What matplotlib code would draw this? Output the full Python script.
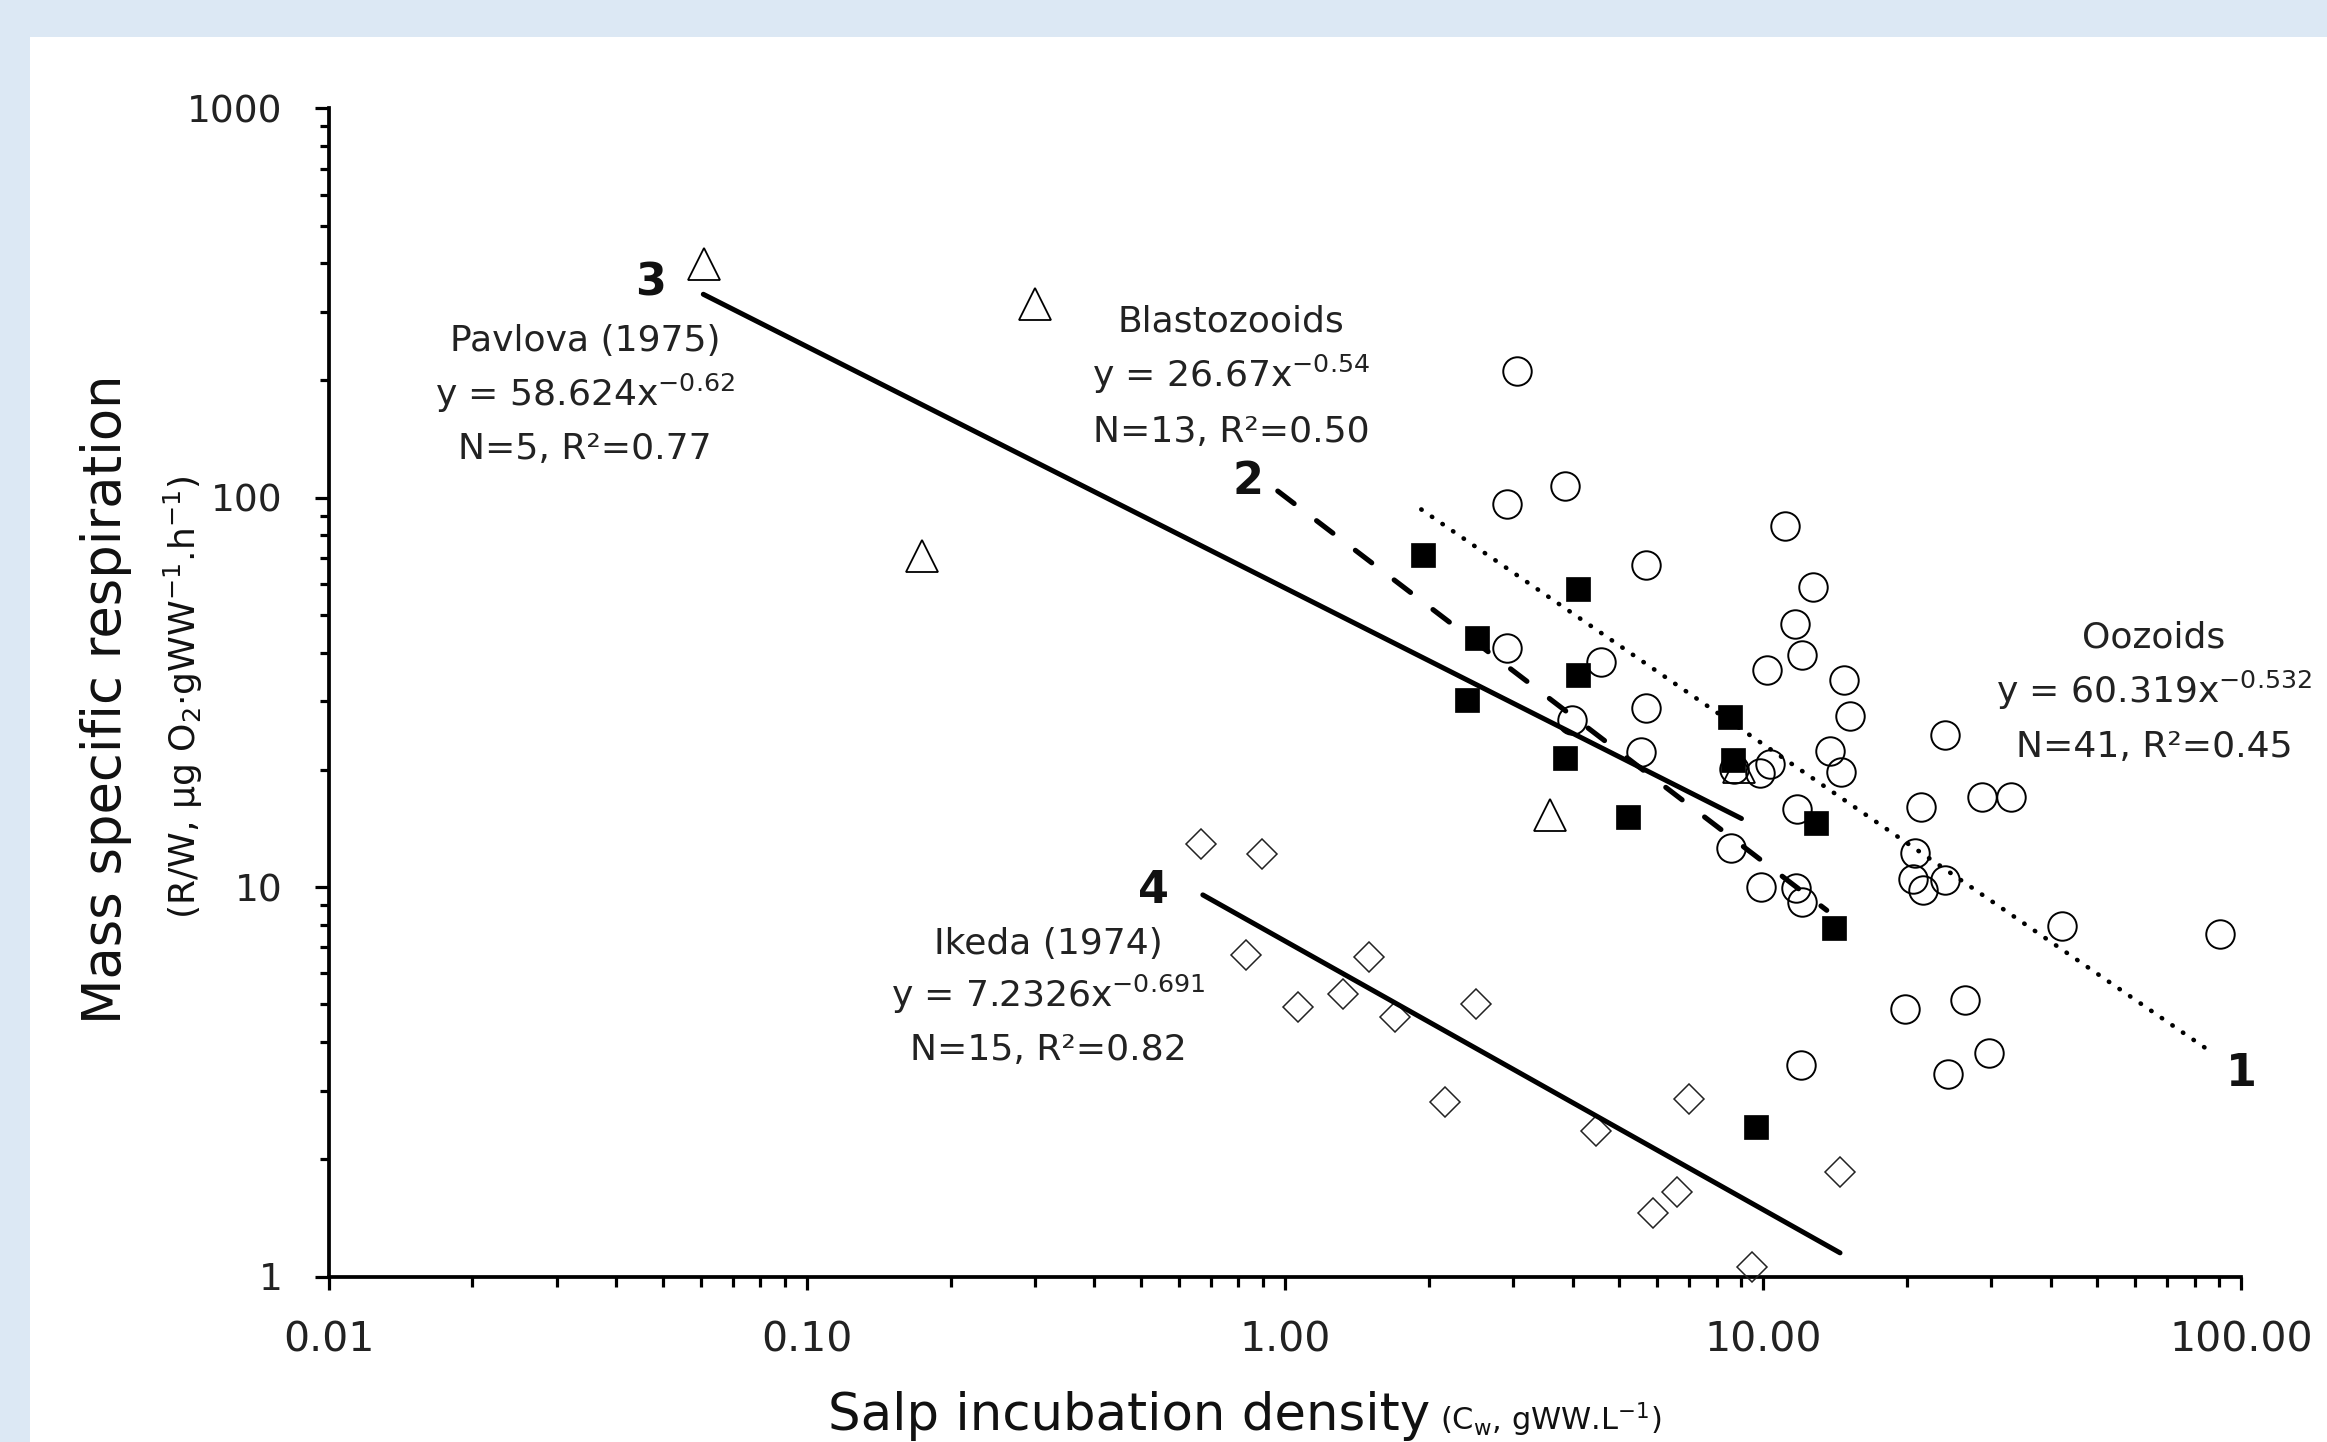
import matplotlib
matplotlib.use("Agg")
import matplotlib.pyplot as plt
from matplotlib.patches import Rectangle
from matplotlib.ticker import LogLocator, NullFormatter, FixedLocator, FixedFormatter

W, H = 2327, 1442
DPI = 100

# ---------------- data ----------------
# Oozoids (open circles)
oozoid_x = [3.06, 2.92, 3.85, 11.1, 5.69, 12.7, 11.65, 12.1, 10.2, 14.8, 15.2, 2.92, 4.59,
            5.69, 3.98, 5.57, 13.8, 14.6, 8.69, 9.85, 10.35, 11.8, 8.59, 9.93, 11.75, 12.1,
            12.0, 24.0, 28.7, 33.0, 21.4, 20.8, 20.6, 21.6, 24.0, 42.3, 90.3, 19.8, 26.5,
            29.7, 24.4]
oozoid_y = [211, 96.3, 107, 84.7, 67.1, 59.0, 47.5, 39.4, 36.2, 34.1, 27.5, 41.2, 37.8,
            28.8, 26.8, 22.2, 22.3, 19.8, 20.1, 19.6, 20.7, 15.9, 12.6, 10.0, 9.92, 9.16,
            3.49, 24.6, 17.05, 17.05, 16.1, 12.2, 10.5, 9.82, 10.4, 7.94, 7.6, 4.85, 5.12,
            3.74, 3.32]

# Blastozooids (filled squares)
blasto_x = [1.95, 4.10, 2.53, 4.10, 2.41, 8.52, 3.85, 8.64, 5.22, 12.9, 14.1, 9.69]
blasto_y = [71.2, 58.3, 43.5, 35.0, 30.2, 27.4, 21.5, 21.2, 15.15, 14.6, 7.83, 2.42]

# Pavlova (1975) (open triangles)
pavlova_x = [0.061, 0.300, 0.174, 3.59, 8.9]
pavlova_y = [398, 314, 71.0, 15.3, 20.3]

# Ikeda (1974) (open diamonds)
ikeda_x = [0.668, 0.895, 0.830, 1.503, 1.068, 1.322, 1.697, 2.515, 2.166, 4.48, 7.00,
           14.5, 6.60, 5.89, 9.51]
ikeda_y = [12.87, 12.13, 6.68, 6.62, 4.92, 5.30, 4.64, 5.02, 2.81, 2.37, 2.86, 1.85,
           1.65, 1.46, 1.06]

# Trend lines (end points as drawn)
fit_oozoid_x = [1.93, 87.5]
fit_oozoid_y = [93.3, 3.74]
fit_blasto_x = [0.967, 13.6]
fit_blasto_y = [104, 8.72]
fit_pavlova_x = [0.0608, 9.02]
fit_pavlova_y = [333, 15.0]
fit_ikeda_x = [0.674, 14.5]
fit_ikeda_y = [9.55, 1.15]

x_ticks = [0.01, 0.1, 1, 10, 100]
x_tick_labels = ["0.01", "0.10", "1.00", "10.00", "100.00"]
y_ticks = [1, 10, 100, 1000]
y_tick_labels = ["1", "10", "100", "1000"]

pavlova_label = ["Pavlova (1975)", r"y = 58.624x$^{-0.62}$", "N=5, R²=0.77"]
blasto_label = ["Blastozooids", r"y = 26.67x$^{-0.54}$", "N=13, R²=0.50"]
oozoid_label = ["Oozoids", r"y = 60.319x$^{-0.532}$", "N=41, R²=0.45"]
ikeda_label = ["Ikeda (1974)", r"y = 7.2326x$^{-0.691}$", "N=15, R²=0.82"]
line_numbers = ["1", "2", "3", "4"]

# ---------------- figure ----------------
plt.rcParams['font.family'] = ['DejaVu Sans']
plt.rcParams['mathtext.fontset'] = 'dejavusans'

fig = plt.figure(figsize=(W / DPI, H / DPI), dpi=DPI)
fig.patch.set_facecolor('#dce8f4')
fig.add_artist(Rectangle((30 / W, 0), 1, 1 - 37 / H, transform=fig.transFigure,
                         facecolor='white', edgecolor='none', zorder=-5))

x0, x1 = 328.5 / W, 2241 / W
y0, y1 = 1 - 1276.5 / H, 1 - 108.3 / H
ax = fig.add_axes([x0, y0, x1 - x0, y1 - y0])
ax.set_facecolor('none')
ax.set_xscale('log')
ax.set_yscale('log')
ax.set_xlim(0.01, 100)
ax.set_ylim(1, 1000)

# markers
ax.plot(oozoid_x, oozoid_y, linestyle='none', marker='o', ms=20.5, mfc='none',
        mec='black', mew=1.4, zorder=3, clip_on=False)
ax.plot(blasto_x, blasto_y, linestyle='none', marker='s', ms=17.5, mfc='black',
        mec='black', mew=0.5, zorder=4, clip_on=False)
ax.plot(pavlova_x, pavlova_y, linestyle='none', marker='^', ms=23, mfc='none',
        mec='black', mew=1.3, zorder=4, clip_on=False)
ax.plot(ikeda_x, ikeda_y, linestyle='none', marker='D', ms=15.5, mfc='none',
        mec='#222222', mew=1.1, zorder=4, clip_on=False)

# trend lines
ax.plot(fit_oozoid_x, fit_oozoid_y, color='black', lw=3.3, linestyle=(0, (0.1, 2.7)),
        dash_capstyle='round', zorder=5)
ax.plot(fit_blasto_x, fit_blasto_y, color='black', lw=3.7, linestyle=(0, (4.0, 5.5)),
        dash_capstyle='round', zorder=5)
ax.plot(fit_pavlova_x, fit_pavlova_y, color='black', lw=3.6, solid_capstyle='round', zorder=5)
ax.plot(fit_ikeda_x, fit_ikeda_y, color='black', lw=3.6, solid_capstyle='round', zorder=5)

# axes styling
for s in ['top', 'right']:
    ax.spines[s].set_visible(False)
for s in ['left', 'bottom']:
    ax.spines[s].set_linewidth(2.7)
    ax.spines[s].set_capstyle('projecting')

ax.xaxis.set_major_locator(FixedLocator(x_ticks))
ax.xaxis.set_major_formatter(FixedFormatter(x_tick_labels))
ax.xaxis.set_minor_locator(LogLocator(base=10, subs=[2, 3, 4, 5, 6, 7, 8, 9], numticks=30))
ax.xaxis.set_minor_formatter(NullFormatter())
ax.yaxis.set_major_locator(FixedLocator(y_ticks))
ax.yaxis.set_major_formatter(FixedFormatter(y_tick_labels))
ax.yaxis.set_minor_locator(LogLocator(base=10, subs=[2, 3, 4, 5, 6, 7, 8, 9], numticks=30))
ax.yaxis.set_minor_formatter(NullFormatter())

ax.tick_params(axis='x', which='major', direction='out', length=9, width=2.3, pad=23,
               labelsize=29.5, colors='black')
ax.tick_params(axis='x', which='minor', direction='out', length=7, width=2.3)
ax.tick_params(axis='y', which='major', direction='out', length=10, width=2.3, pad=23,
               labelsize=27, colors='black')
ax.tick_params(axis='y', which='minor', direction='out', length=6.5, width=2.3)
for lab in ax.get_xticklabels() + ax.get_yticklabels():
    lab.set_color('#222222')


def ftext(px, py, s, **kw):
    fig.text(px / W, 1 - py / H, s, **kw)


# annotation blocks
for lines, cx, bases in [(pavlova_label, 585, [351, 406, 459]),
                         (blasto_label, 1231, [332, 387, 442]),
                         (oozoid_label, 2154, [647, 703, 757]),
                         (ikeda_label, 1048, [954, 1007, 1060])]:
    for t, b in zip(lines, bases):
        ftext(cx, b, t, ha='center', va='baseline', fontsize=26, color='#222222')

# line numbers
for t, (px, py) in zip(line_numbers, [(2241, 1086), (1248, 494), (650, 296), (1154, 903)]):
    ftext(px, py, t, ha='center', va='baseline', fontsize=32, fontweight='bold', color='#111111')

# axis titles
ftext(828, 1430, 'Salp incubation density', fontsize=37, ha='left', va='baseline',
      color='#111111')
ftext(1440, 1430, r'(C$_{\mathrm{w}}$, gWW.L$^{-1}$)', fontsize=22, ha='left', va='baseline',
      color='#111111')
ftext(121, 699, 'Mass specific respiration', fontsize=38, rotation=90,
      rotation_mode='anchor', ha='center', va='baseline', color='#111111')
ftext(196, 697, r'(R/W, μg O$_{2}$·gWW$^{-1}$.h$^{-1}$)', fontsize=26, rotation=90,
      rotation_mode='anchor', ha='center', va='baseline', color='#111111')

fig.savefig('out.png', dpi=DPI, facecolor=fig.get_facecolor())
